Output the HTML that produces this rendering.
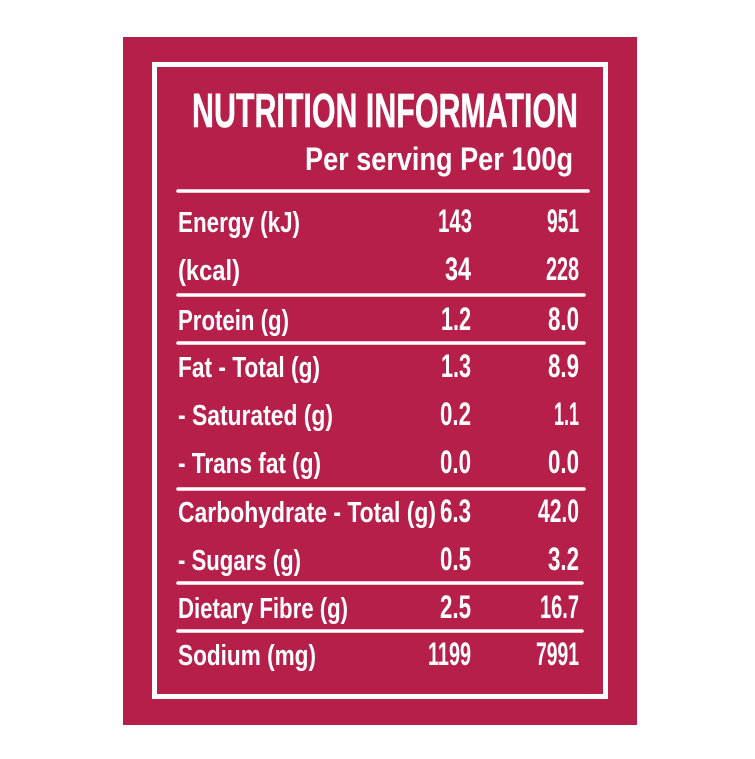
<!DOCTYPE html>
<html><head><meta charset="utf-8"><style>
html,body{margin:0;padding:0;background:#fff;width:755px;height:759px;overflow:hidden}
svg{display:block}
text{font-family:"Liberation Sans Narrow","Liberation Sans",sans-serif;font-weight:bold;fill:#fff}
</style></head><body>
<svg width="755" height="759" viewBox="0 0 755 759" xmlns="http://www.w3.org/2000/svg">
<rect x="123" y="37" width="514" height="688" fill="#b71f4b"/>
<rect x="154.5" y="64.5" width="451" height="632" fill="none" stroke="#fff" stroke-width="5"/>
<text x="192" y="127" font-size="48" textLength="386" lengthAdjust="spacingAndGlyphs" stroke="#fff" stroke-width="0.5">NUTRITION INFORMATION</text>
<text x="305" y="170" font-size="32" textLength="268" lengthAdjust="spacingAndGlyphs">Per serving  Per 100g</text>
<g stroke="#fff" stroke-width="3.5" stroke-linecap="round">
<line x1="178" y1="191" x2="588" y2="191"/>
<line x1="178" y1="295" x2="584" y2="295"/>
<line x1="178" y1="343" x2="584" y2="343"/>
<line x1="178" y1="489" x2="584" y2="489"/>
<line x1="178" y1="583" x2="582" y2="583"/>
<line x1="178" y1="631" x2="582" y2="631"/>
<line x1="160" y1="697" x2="604" y2="697"/>
</g>
<g font-size="29">
<text x="178" y="232" textLength="122" lengthAdjust="spacingAndGlyphs">Energy (kJ)</text>
<text x="178" y="280" textLength="62" lengthAdjust="spacingAndGlyphs">(kcal)</text>
<text x="178" y="330" textLength="111" lengthAdjust="spacingAndGlyphs">Protein (g)</text>
<text x="178" y="377" textLength="142" lengthAdjust="spacingAndGlyphs">Fat - Total (g)</text>
<text x="178" y="425" textLength="155" lengthAdjust="spacingAndGlyphs">- Saturated (g)</text>
<text x="178" y="473" textLength="143" lengthAdjust="spacingAndGlyphs">- Trans fat (g)</text>
<text x="178" y="522" textLength="258" lengthAdjust="spacingAndGlyphs">Carbohydrate - Total (g)</text>
<text x="178" y="570" textLength="123" lengthAdjust="spacingAndGlyphs">- Sugars (g)</text>
<text x="178" y="618" textLength="170" lengthAdjust="spacingAndGlyphs">Dietary Fibre (g)</text>
<text x="178" y="665" textLength="138" lengthAdjust="spacingAndGlyphs">Sodium (mg)</text>
</g>
<g font-size="32">
<text x="438" y="232" textLength="34" lengthAdjust="spacingAndGlyphs">143</text>
<text x="445" y="280" textLength="26" lengthAdjust="spacingAndGlyphs">34</text>
<text x="441" y="330" textLength="30" lengthAdjust="spacingAndGlyphs">1.2</text>
<text x="441" y="377" textLength="30" lengthAdjust="spacingAndGlyphs">1.3</text>
<text x="440" y="425" textLength="31" lengthAdjust="spacingAndGlyphs">0.2</text>
<text x="440" y="473" textLength="31" lengthAdjust="spacingAndGlyphs">0.0</text>
<text x="440" y="522" textLength="31" lengthAdjust="spacingAndGlyphs">6.3</text>
<text x="440" y="570" textLength="31" lengthAdjust="spacingAndGlyphs">0.5</text>
<text x="440" y="618" textLength="31" lengthAdjust="spacingAndGlyphs">2.5</text>
<text x="428" y="665" textLength="43" lengthAdjust="spacingAndGlyphs">1199</text>
<text x="547" y="232" textLength="32" lengthAdjust="spacingAndGlyphs">951</text>
<text x="546" y="280" textLength="33" lengthAdjust="spacingAndGlyphs">228</text>
<text x="548" y="330" textLength="31" lengthAdjust="spacingAndGlyphs">8.0</text>
<text x="548" y="377" textLength="31" lengthAdjust="spacingAndGlyphs">8.9</text>
<text x="554" y="425" textLength="25" lengthAdjust="spacingAndGlyphs">1.1</text>
<text x="548" y="473" textLength="31" lengthAdjust="spacingAndGlyphs">0.0</text>
<text x="538" y="522" textLength="41" lengthAdjust="spacingAndGlyphs">42.0</text>
<text x="548" y="570" textLength="31" lengthAdjust="spacingAndGlyphs">3.2</text>
<text x="540" y="618" textLength="39" lengthAdjust="spacingAndGlyphs">16.7</text>
<text x="536" y="665" textLength="43" lengthAdjust="spacingAndGlyphs">7991</text>
</g>
</svg>
</body></html>
